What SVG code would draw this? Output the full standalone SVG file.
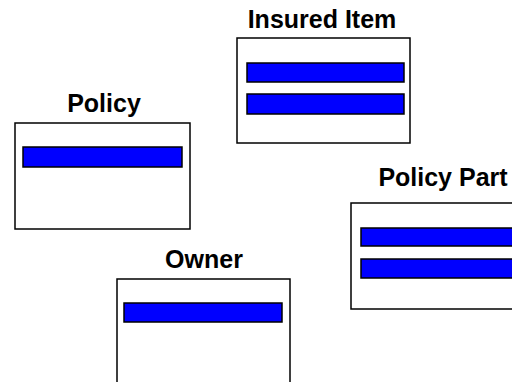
<svg xmlns="http://www.w3.org/2000/svg" width="512" height="382" viewBox="0 0 512 382">
  <style>
    .box { fill: #ffffff; stroke: #000000; stroke-width: 1.5; }
    .bar { fill: #0000ff; stroke: #000000; stroke-width: 1.5; }
    .title { font-family: "Liberation Sans", Arial, sans-serif; font-weight: bold; font-size: 25px; fill: #000000; text-anchor: middle; }
  </style>
  <rect width="512" height="382" fill="#ffffff"/>
  <g id="insured-item">
    <text class="title" x="322" y="28">Insured Item</text>
    <rect class="box" x="237" y="38" width="173" height="105"/>
    <rect class="bar" x="247" y="63" width="157" height="19"/>
    <rect class="bar" x="247" y="94" width="157" height="20"/>
  </g>
  <g id="policy">
    <text class="title" x="104" y="111.5">Policy</text>
    <rect class="box" x="15" y="123" width="175" height="106"/>
    <rect class="bar" x="23" y="147" width="159" height="20"/>
  </g>
  <g id="policy-part">
    <text class="title" x="443" y="185.5">Policy Part</text>
    <rect class="box" x="351" y="203" width="185" height="106"/>
    <rect class="bar" x="361" y="228" width="170" height="18"/>
    <rect class="bar" x="361" y="259" width="170" height="19"/>
  </g>
  <g id="owner">
    <text class="title" x="204" y="267.5">Owner</text>
    <rect class="box" x="117" y="279" width="173" height="106"/>
    <rect class="bar" x="124" y="303" width="158" height="19"/>
  </g>
  <g id="connectors"></g>
</svg>
